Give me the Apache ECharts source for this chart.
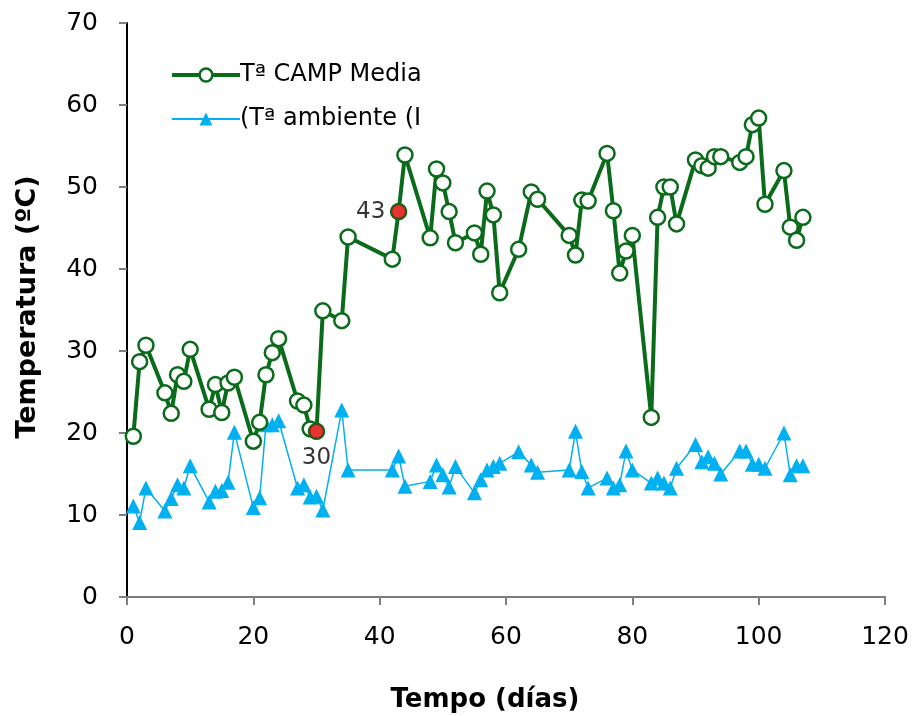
<!DOCTYPE html>
<html>
<head>
<meta charset="utf-8">
<script src="https://cdn.jsdelivr.net/npm/echarts@6/dist/echarts.min.js"></script>
<style>html,body{margin:0;padding:0;background:#fff;}#c{width:913px;height:716px;}</style>
</head>
<body>
<div id="c"></div>
<script>
const days = [1,2,3,6,7,8,9,10,13,14,15,16,17,20,21,22,23,24,27,28,29,30,31,34,35,42,43,44,48,49,50,51,52,55,56,57,58,59,62,64,65,70,71,72,73,76,77,78,79,80,83,84,85,86,87,90,91,92,93,94,97,98,99,100,101,104,105,106,107];
const campMedia = [19.6,28.7,30.7,24.9,22.4,27.1,26.3,30.2,22.9,25.9,22.5,26.1,26.8,19.0,21.3,27.1,29.8,31.5,23.9,23.4,20.5,20.2,34.9,33.7,43.9,41.2,47.0,53.9,43.8,52.2,50.5,47.0,43.2,44.4,41.8,49.5,46.6,37.1,42.4,49.4,48.5,44.1,41.7,48.4,48.3,54.1,47.1,39.5,42.2,44.1,21.9,46.3,50.0,50.0,45.5,53.3,52.6,52.3,53.7,53.7,53.0,53.7,57.6,58.4,47.9,52.0,45.1,43.5,46.3];
const ambiente = [11.1,9.1,13.3,10.5,12.0,13.7,13.3,16.0,11.6,12.9,13.0,14.0,20.1,10.9,12.1,21.0,21.0,21.5,13.3,13.7,12.2,12.3,10.6,22.8,15.5,15.5,17.2,13.5,14.1,16.1,14.9,13.4,15.9,12.7,14.3,15.5,15.9,16.3,17.7,16.1,15.2,15.5,20.2,15.3,13.3,14.5,13.3,13.7,17.8,15.5,13.9,14.5,13.9,13.3,15.7,18.6,16.5,17.1,16.3,15.0,17.8,17.8,16.2,16.2,15.7,20.0,14.9,16.0,16.0];
const highlightDays = [30, 43];
const highlightLabels = ['30', '43'];
const seriesNames = ['Tª CAMP Media', '(Tª ambiente (I'];
const xTitle = 'Tempo (días)';
const yTitle = 'Temperatura (ºC)';

const FONT = 'DejaVu Sans';
const GREEN = '#0a6b1a';
const BLUE = '#00b0f0';
const campData = days.map((d, i) => [d, campMedia[i]]);
const ambData = days.map((d, i) => [d, ambiente[i]]);
const hlPos = ['bottom', 'left'];
const hlData = highlightDays.map((d, k) => {
  const i = days.indexOf(d);
  return {
    value: [d, campMedia[i]],
    label: { show: true, position: hlPos[k], formatter: highlightLabels[k], distance: k === 0 ? 7 : 5 }
  };
});

const chart = echarts.init(document.getElementById('c'), null, { renderer: 'canvas' });
chart.setOption({
  backgroundColor: '#ffffff',
  animation: false,
  grid: { left: 127, right: 28, top: 23, bottom: 119, containLabel: false },
  legend: {
    data: [
      { name: seriesNames[0], lineStyle: { color: GREEN, width: 4 }, itemStyle: { color: '#fff', borderColor: GREEN, borderWidth: 2.5 } },
      { name: seriesNames[1], lineStyle: { color: BLUE, width: 2 }, itemStyle: { color: BLUE } }
    ],
    orient: 'vertical',
    left: 165,
    top: 58,
    itemWidth: 68,
    itemHeight: 16,
    itemGap: 20,
    textStyle: { fontFamily: FONT, fontSize: 24, color: '#000', padding: [0, 0, 0, -5] }
  },
  graphic: [
    { type: 'text', x: 485, y: 700, style: { text: xTitle, font: 'bold 26px "DejaVu Sans"', fill: '#000', align: 'center', verticalAlign: 'middle' } },
    { type: 'text', x: 28, y: 307, rotation: Math.PI / 2, style: { text: yTitle, font: 'bold 27px "DejaVu Sans"', fill: '#000', align: 'center', verticalAlign: 'middle' } }
  ],
  xAxis: [{
    type: 'value', min: 0, max: 120, interval: 20,
    axisLine: { show: true, onZero: false, lineStyle: { color: '#404040', width: 2 } },
    axisTick: { show: true, inside: false, length: 8, lineStyle: { color: '#808080', width: 2 } },
    axisLabel: { fontFamily: FONT, fontSize: 25, color: '#000', margin: 28 },
    splitLine: { show: false }
  }, {
    type: 'value', min: 0, max: 120, position: 'top',
    axisLine: { show: true, lineStyle: { color: '#909090', width: 1.5 } },
    axisTick: { show: false }, axisLabel: { show: false }, splitLine: { show: false }
  }],
  yAxis: {
    type: 'value', min: 0, max: 70, interval: 10,
    axisLine: { show: true, onZero: false, lineStyle: { color: '#000', width: 2 } },
    axisTick: { show: true, inside: false, length: 8, lineStyle: { color: '#808080', width: 2 } },
    axisLabel: { fontFamily: FONT, fontSize: 25, color: '#000', margin: 29 },
    splitLine: { show: false }
  },
  series: [{
    name: seriesNames[0], type: 'line', data: campData,
    symbol: 'circle', symbolSize: 15, z: 3,
    lineStyle: { color: GREEN, width: 4 },
    itemStyle: { color: '#ffffff', borderColor: GREEN, borderWidth: 2.5 }
  }, {
    name: seriesNames[1], type: 'line', data: ambData,
    symbol: 'triangle', symbolSize: 15, z: 2,
    lineStyle: { color: BLUE, width: 1.5 },
    itemStyle: { color: BLUE }
  }, {
    name: 'hl', type: 'scatter', data: hlData,
    symbol: 'circle', symbolSize: 15, z: 4,
    itemStyle: { color: '#e00000', borderColor: GREEN, borderWidth: 1.5 },
    label: { fontFamily: FONT, fontSize: 23, color: '#000', textBorderWidth: 0 }
  }]
});
</script>
</body>
</html>
